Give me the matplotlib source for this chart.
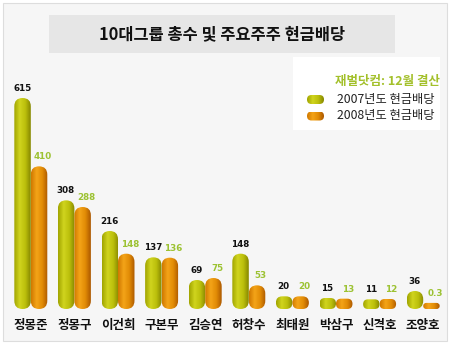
import matplotlib
matplotlib.use("Agg")
import matplotlib.pyplot as plt
import numpy as np
from matplotlib.patches import FancyBboxPatch, Rectangle, BoxStyle
from matplotlib.colors import LinearSegmentedColormap
import matplotlib.transforms as mtransforms

plt.rcParams['font.family'] = ['Noto Sans CJK KR', 'DejaVu Sans']

names = ['정몽준', '정몽구', '이건희', '구본무', '김승연', '허창수', '최태원', '박삼구', '신격호', '조양호']
div2007 = [615, 308, 216, 137, 69, 148, 20, 15, 11, 36]
div2008 = [410, 288, 148, 136, 75, 53, 20, 13, 12, 0.3]
labels2007 = ['615', '308', '216', '137', '69', '148', '20', '15', '11', '36']
labels2008 = ['410', '288', '148', '136', '75', '53', '20', '13', '12', '0.3']
title = '10대그룹 총수 및 주요주주 현금배당'
source = '재벌닷컴: 12월 결산'
series_names = ['2007년도 현금배당', '2008년도 현금배당']

W, H = 450, 345
fig = plt.figure(figsize=(W / 100, H / 100), dpi=100)
fig.patch.set_facecolor('white')


def fx(x):
    return x / W


def fy(y):
    return 1 - y / H


def frect(x0, y0, x1, y1, **kw):
    r = Rectangle((fx(x0), fy(y1)), fx(x1) - fx(x0), fy(y0) - fy(y1),
                  transform=fig.transFigure, zorder=-5, **kw)
    fig.patches.append(r)
    return r


# panel + title box + legend box
frect(3, 3, 447, 341, facecolor='#f6f6f6', edgecolor='#dddddd', linewidth=0.8)
frect(49, 15, 395, 53, facecolor='#e6e6e6', edgecolor='none')
fig.text(fx(222), fy(34), title, ha='center', va='center', fontsize=11.8,
         fontweight='bold', color='#111111')
frect(293, 57, 440, 130, facecolor='white', edgecolor='none')

# axes mapped to pixels
ax_l, ax_r, ax_top, ax_bot = 9, 445, 60, 309
ax = fig.add_axes([fx(ax_l), fy(ax_bot), fx(ax_r) - fx(ax_l), fy(ax_top) - fy(ax_bot)])
ax.set_axis_off()
ax.patch.set_alpha(0)

n = len(names)
xlim = (-0.5, n - 0.5)
ybase = -18.0
ytop = 729.0
xupp = (xlim[1] - xlim[0]) / (ax_r - ax_l)
yupp = (ytop - ybase) / (ax_bot - ax_top)
maspect = yupp / xupp

cmap07 = LinearSegmentedColormap.from_list('c07', ['#a0a400', '#d0d41e', '#bcc00c', '#868700'])
cmap08 = LinearSegmentedColormap.from_list('c08', ['#d07800', '#f4a418', '#e28c06', '#ac5800'])
grad = np.linspace(0, 1, 64).reshape(1, -1)

bw = 0.378


def capsule(x0, w, y0, y1, cmap, axes, m, xu, yu):
    hpx = (y1 - y0) / yu
    wpx = w / xu
    rpx = min(wpx / 2, hpx / 2)
    patch = FancyBboxPatch((x0, y0), w, y1 - y0,
                           boxstyle=BoxStyle('Round', pad=0, rounding_size=rpx * xu),
                           mutation_aspect=m, transform=axes.transData,
                           facecolor='none', edgecolor='none')
    axes.add_patch(patch)
    im = axes.imshow(grad, cmap=cmap, extent=(x0, x0 + w, y0, y1), aspect='auto',
                     interpolation='bilinear', zorder=2)
    im.set_clip_path(patch)


for i in range(n):
    capsule(i - bw, bw, ybase, div2007[i], cmap07, ax, maspect, xupp, yupp)
    capsule(i, bw, ybase, div2008[i], cmap08, ax, maspect, xupp, yupp)
    ax.annotate(labels2007[i], xy=(i - bw / 2, div2007[i]), xytext=(-0.3, 3.5),
                textcoords='offset points', ha='center', va='bottom',
                fontsize=6.3, fontweight='bold', color='#111111', family='DejaVu Sans',
                zorder=3)
    ax.annotate(labels2008[i], xy=(i + bw / 2, div2008[i]), xytext=(2.6, 3.5),
                textcoords='offset points', ha='center', va='bottom',
                fontsize=6.3, fontweight='bold', color='#9cc232', family='DejaVu Sans',
                zorder=3)

ax.set_xlim(*xlim)
ax.set_ylim(ybase, ytop)

blend = mtransforms.blended_transform_factory(ax.transData, fig.transFigure)
for i, nm in enumerate(names):
    ax.text(i, fy(326), nm, transform=blend, ha='center', va='center',
            fontsize=9, fontweight='bold', color='#111111')

# legend
fig.text(fx(440), fy(82), source, ha='right', va='center', fontsize=9,
         fontweight='bold', color='#a3c02a')
lax = fig.add_axes([fx(300), fy(125), fx(330) - fx(300), fy(90) - fy(125)])
lax.set_axis_off()
lax.patch.set_alpha(0)
lx_upp = 1.0 / 30
ly_upp = 1.0 / 35
lm = ly_upp / lx_upp
for k, (cm, yc) in enumerate([(cmap07, 99.5), (cmap08, 116)]):
    y0 = (125 - (yc + 4.5)) * ly_upp
    y1 = (125 - (yc - 4.5)) * ly_upp
    capsule(7 * lx_upp, 17 * lx_upp, y0, y1, cm, lax, lm, lx_upp, ly_upp)
    fig.text(fx(337), fy(yc), series_names[k], ha='left', va='center',
             fontsize=8.8, color='#222222')
lax.set_xlim(0, 1)
lax.set_ylim(0, 1)

fig.savefig('out.png', dpi=100, facecolor='white')
